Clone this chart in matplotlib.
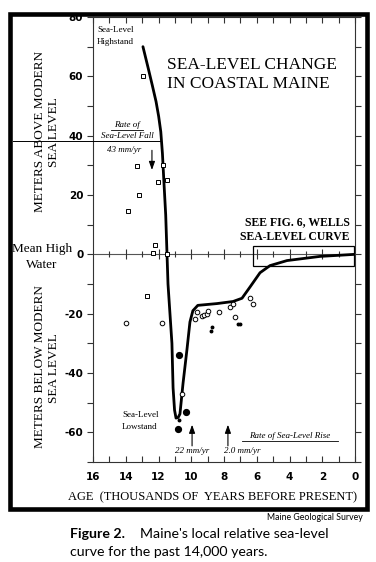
import matplotlib
matplotlib.use('Agg')
import matplotlib.pyplot as plt
from matplotlib.patches import Rectangle
from matplotlib.lines import Line2D

# ---------------- data ----------------
curve_age = [12.95, 12.64, 12.38, 12.15, 11.99, 11.86, 11.76, 11.68, 11.56, 11.48,
             11.42, 11.3, 11.18, 11.11, 11.02, 10.93, 10.8, 10.69, 10.5, 10.26,
             10.08, 9.9, 9.6, 8.43, 7.45, 6.9, 6.41, 5.8, 5.19, 4.15, 2.14, 0.0]
curve_elev = [70, 63, 57, 51.5, 46.5, 41.3, 34, 25.5, 13.3, 0,
              -10, -20, -30, -45, -52.5, -55.2, -55, -53.8, -43.4, -32,
              -22.8, -19, -17.2, -16.6, -15.9, -14.8, -11, -6.2, -3.8, -2.1, -0.7, 0.0]

square_age = [12.95, 13.31, 11.73, 12.03, 11.48, 13.19, 13.86, 12.21, 12.34, 11.48, 12.7]
square_elev = [60, 29.7, 30, 24.3, 25, 20, 14.7, 3.3, 0.3, 0, -14.1]

open_age = [13.98, 11.79, 10.56, 9.77, 9.65, 9.34, 9.22, 9.04, 8.97, 8.3,
            7.63, 7.45, 7.33, 6.41, 6.23]
open_elev = [-23.1, -23.1, -47.2, -21.7, -19.3, -20.7, -20.3, -20, -19, -19.3,
             -17.6, -16.9, -21, -14.8, -16.6]

filled_age = [10.75, 10.32, 10.81]
filled_elev = [-33.8, -53.1, -59]

small_age = [8.73, 8.79, 7.15, 7.0, 10.75]
small_elev = [-24.5, -25.9, -23.4, -23.4, -55.8]

box_age = [6.2, 0.05]
box_elev = [-4, 2.7]

fall_rate_age = 12.4
rise_rate_ages = [9.95, 7.76]
rise_rate_labels = ['22 mm/yr', '2.0 mm/yr']

x_ticks = [16, 14, 12, 10, 8, 6, 4, 2, 0]
y_ticks = [-60, -40, -20, 0, 20, 40, 60, 80]

# ---------------- figure ----------------
W, H = 376, 562
fig = plt.figure(figsize=(W / 100, H / 100), dpi=100)
fig.patch.set_facecolor('white')


def fx(px):
    return px / W


def fy(py):
    return 1 - py / H


serif = 'Liberation Serif'
tickfont = dict(family='Liberation Sans Narrow', weight='bold', size=7.5)

ax = fig.add_axes([fx(93), fy(462), fx(355) - fx(93), fy(17) - fy(462)])
ax.set_xlim(16, 0)
ax.set_ylim(-70, 80)
for s in ax.spines.values():
    s.set_linewidth(0.8)
    s.set_color('#333333')

ax.set_xticks(x_ticks)
ax.set_xticks(range(1, 16, 2), minor=True)
ax.set_yticks(y_ticks)
ax.set_yticks(range(-70, 81, 10), minor=True)
ax.tick_params(axis='x', which='both', direction='in', length=4, width=0.8,
               top=True, bottom=True, pad=7, colors='#333333')
ax.tick_params(axis='y', which='both', direction='out', length=4, width=0.8,
               left=True, right=True, pad=3, colors='#333333')
ax.set_xticklabels([str(v) for v in x_ticks], fontdict=tickfont, color='black')
ax.set_yticklabels([str(v) for v in y_ticks], fontdict=tickfont, color='black')

# zero (mean high water) line with its own small ticks
ax.axhline(0, color='#555555', lw=0.8, zorder=1)
for a in range(1, 16):
    ax.plot(a, 0, marker='|', ms=7 if a % 2 == 0 else 4, color='#333333',
            mew=0.8, zorder=1)

# box for "see fig. 6"
ax.add_patch(Rectangle((box_age[1], box_elev[0]), box_age[0] - box_age[1],
                       box_elev[1] - box_elev[0], fill=False, lw=0.9,
                       ec='black', zorder=2))

# sea-level curve
ax.plot(curve_age, curve_elev, color='black', lw=2.0, zorder=4,
        solid_joinstyle='round', solid_capstyle='round')

# data points
ax.plot(square_age, square_elev, ls='none', marker='s', ms=3.2, mfc='white',
        mec='black', mew=0.7, zorder=5)
ax.plot(open_age, open_elev, ls='none', marker='o', ms=3.3, mfc='white',
        mec='black', mew=0.7, zorder=5)
ax.plot(filled_age, filled_elev, ls='none', marker='o', ms=4.2, mfc='black',
        mec='black', zorder=5)
ax.plot(small_age, small_elev, ls='none', marker='o', ms=1.8, mfc='black',
        mec='black', zorder=5)

# arrows
ax.annotate('', xy=(fall_rate_age, 27.5), xytext=(fall_rate_age, 36),
            arrowprops=dict(arrowstyle='-|>,head_length=0.5,head_width=0.18',
                            color='black', lw=0.8))
for a in rise_rate_ages:
    ax.annotate('', xy=(a, -56.5), xytext=(a, -65.5),
                arrowprops=dict(arrowstyle='-|>,head_length=0.5,head_width=0.18',
                                color='black', lw=0.8))

# ---------------- texts ----------------
fig.text(fx(167), fy(65), 'SEA-LEVEL CHANGE', family=serif, size=12.5,
         ha='left', va='center')
fig.text(fx(167), fy(84), 'IN COASTAL MAINE', family=serif, size=12.5,
         ha='left', va='center')

fig.text(fx(97), fy(30), 'Sea-Level', family=serif, size=6.5, ha='left', va='center')
fig.text(fx(97), fy(42), 'Highstand', family=serif, size=6.5, ha='left', va='center')

fig.text(fx(127), fy(125), 'Rate of', family=serif, style='italic', size=6.5,
         ha='center', va='center')
fig.text(fx(127), fy(136), 'Sea-Level Fall', family=serif, style='italic',
         size=6.5, ha='center', va='center')
fig.text(fx(124), fy(150), '43 mm/yr', family=serif, style='italic', size=6.5,
         ha='center', va='center')
fig.add_artist(Line2D([fx(111), fx(143)], [fy(130), fy(130)], lw=0.6,
                      color='black', transform=fig.transFigure))
fig.add_artist(Line2D([fx(13), fx(160)], [fy(140.5), fy(140.5)], lw=0.7,
                      color='black', transform=fig.transFigure))

fig.text(fx(350), fy(222), 'SEE FIG. 6, WELLS', family=serif, weight='bold',
         size=8.5, ha='right', va='center')
fig.text(fx(350), fy(237), 'SEA-LEVEL CURVE', family=serif, weight='bold',
         size=8.5, ha='right', va='center')

fig.text(fx(122), fy(415), 'Sea-Level', family=serif, size=6.5, ha='left', va='center')
fig.text(fx(122), fy(427), 'Lowstand', family=serif, size=6.5, ha='left', va='center')

fig.text(fx(192), fy(451), rise_rate_labels[0], family=serif, style='italic',
         size=6.5, ha='center', va='center')
fig.text(fx(242), fy(451), rise_rate_labels[1], family=serif, style='italic',
         size=6.5, ha='center', va='center')
fig.text(fx(290), fy(436), 'Rate of Sea-Level Rise', family=serif,
         style='italic', size=6.5, ha='center', va='center')
fig.add_artist(Line2D([fx(242), fx(338)], [fy(441), fy(441)], lw=0.6,
                      color='black', transform=fig.transFigure))

# axis titles
fig.text(fx(40), fy(132), 'METERS ABOVE MODERN', family=serif, size=9.5,
         rotation=90, ha='center', va='center')
fig.text(fx(54), fy(132), 'SEA LEVEL', family=serif, size=9.5,
         rotation=90, ha='center', va='center')
fig.text(fx(40), fy(367), 'METERS BELOW MODERN', family=serif, size=9.5,
         rotation=90, ha='center', va='center')
fig.text(fx(54), fy(368), 'SEA LEVEL', family=serif, size=9.5,
         rotation=90, ha='center', va='center')
fig.text(fx(42), fy(249), 'Mean High', family=serif, size=9.5,
         ha='center', va='center')
fig.text(fx(42), fy(265), 'Water', family=serif, size=9.5,
         ha='center', va='center')
fig.text(fx(212), fy(497), 'AGE  (THOUSANDS OF  YEARS BEFORE PRESENT)',
         family=serif, size=9, ha='center', va='center')

# outer frame
fig.add_artist(Rectangle((fx(10.3), fy(508.7)), fx(366.7) - fx(10.3),
                         fy(14.3) - fy(508.7), transform=fig.transFigure,
                         fill=False, lw=3.3, ec='black'))

# caption
fig.text(fx(363), fy(517), 'Maine Geological Survey', family='Lato', size=6.3,
         ha='right', va='center')
fig.text(fx(70), fy(534), 'Figure 2.', family='Lato', weight='bold', size=10.2,
         ha='left', va='center')
fig.text(fx(140), fy(534), "Maine's local relative sea-level", family='Lato',
         size=10.2, ha='left', va='center')
fig.text(fx(70), fy(552), 'curve for the past 14,000 years.', family='Lato',
         size=10.2, ha='left', va='center')

fig.savefig('out.png', dpi=100, facecolor='white')
